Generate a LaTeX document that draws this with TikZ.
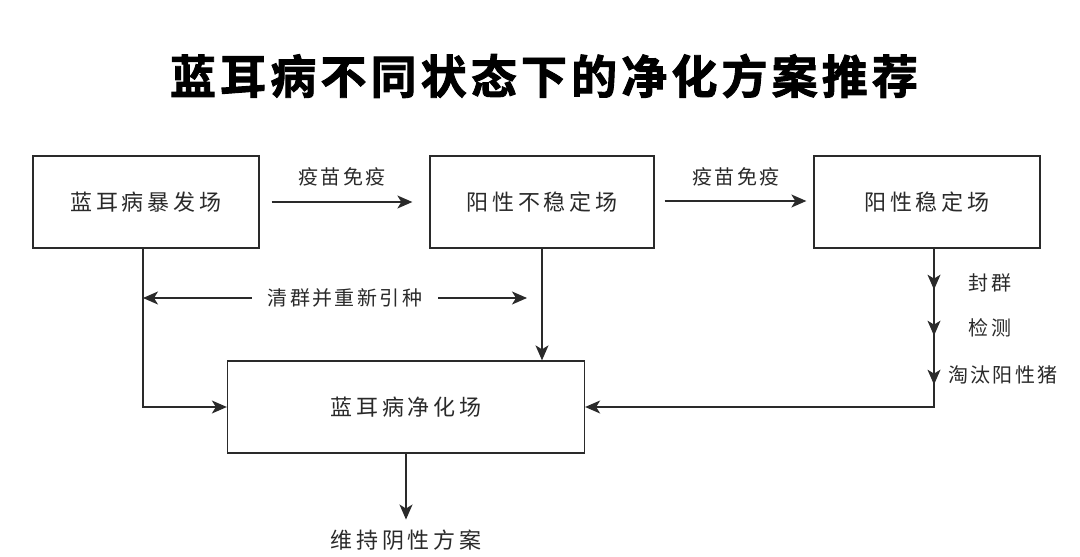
\documentclass[tikz,border=0pt]{standalone}
\usepackage{fontspec}
\newfontfamily\cjk{Noto Sans CJK SC}
\newfontfamily\cjkbox[LetterSpace=18]{Noto Sans CJK SC}
\newfontfamily\cjklab[LetterSpace=12]{Noto Sans CJK SC}
\newfontfamily\cjktitle[LetterSpace=9,FakeBold=2]{Noto Sans CJK SC Bold}
\usetikzlibrary{arrows.meta,decorations.markings}
\definecolor{ink}{HTML}{2A2A2A}
\tikzset{
  boxnode/.style={draw=ink, line width=1.3pt, minimum height=92pt, inner sep=0pt,
    font=\cjkbox\fontsize{22}{26}\selectfont, text=ink},
  lab/.style={font=\cjklab\fontsize{20}{24}\selectfont, text=ink, inner sep=0pt},
  conn/.style={draw=ink, line width=1.3pt},
  tip/.style={-{Stealth[length=15pt,width=13pt,inset=4pt]}},
  arr/.style={conn, tip},
  midarrows/.style={postaction={decorate}, decoration={markings,
    mark=at position 41pt with {\arrow{Stealth[length=15pt,width=13pt,inset=4pt]}},
    mark=at position 87pt with {\arrow{Stealth[length=15pt,width=13pt,inset=4pt]}},
    mark=at position 136pt with {\arrow{Stealth[length=15pt,width=13pt,inset=4pt]}}}}
}
\begin{document}
\begin{tikzpicture}[x=1pt,y=-1pt]
\useasboundingbox[fill=white] (0,0) rectangle (1080,557);
\node[font=\cjktitle\fontsize{46}{50}\selectfont, text=black] (title) at (544,76) {蓝耳病不同状态下的净化方案推荐};
\node[boxnode, minimum width=226pt] (A) at (146,202) {蓝耳病暴发场};
\node[boxnode, minimum width=224pt] (B) at (542,202) {阳性不稳定场};
\node[boxnode, minimum width=226pt] (C) at (927,202) {阳性稳定场};
\node[boxnode, minimum width=357pt] (D) at (406,407) {蓝耳病净化场};
\node[lab] (v1) at (342,177) {疫苗免疫};
\node[lab] (v2) at (736,177) {疫苗免疫};
\node[lab, inner xsep=16pt] (qq) at (345,298) {清群并重新引种};
\node[lab] (fq) at (990,283) {封群};
\node[lab] (jc) at (990,328) {检测};
\node[lab] (tt) at (1003,375) {淘汰阳性猪};
\node[font=\cjkbox\fontsize{22}{26}\selectfont, text=ink, inner sep=0pt] (out) at (406,540) {维持阴性方案};
\coordinate (dl) at (143,298);
\coordinate (dr) at (527,298);
% connectors
\draw[arr] ([xshift=12pt]A.east) -- ([xshift=-17pt]B.west);
\draw[arr] ([xshift=10pt,yshift=1pt]B.east) -- ([xshift=-7pt,yshift=1pt]C.west);
\draw[arr] ([xshift=-3pt]A.south) |- (D.west);
\draw[arr] (B.south) -- (B.south |- D.north);
\draw[arr] (qq) -- (dl);
\draw[arr] (qq) -- (dr);
\draw[arr, midarrows] ([xshift=7pt]C.south) |- (D.east);
\draw[arr] (D.south) -- ([yshift=10pt]out.north);
\end{tikzpicture}
\end{document}
